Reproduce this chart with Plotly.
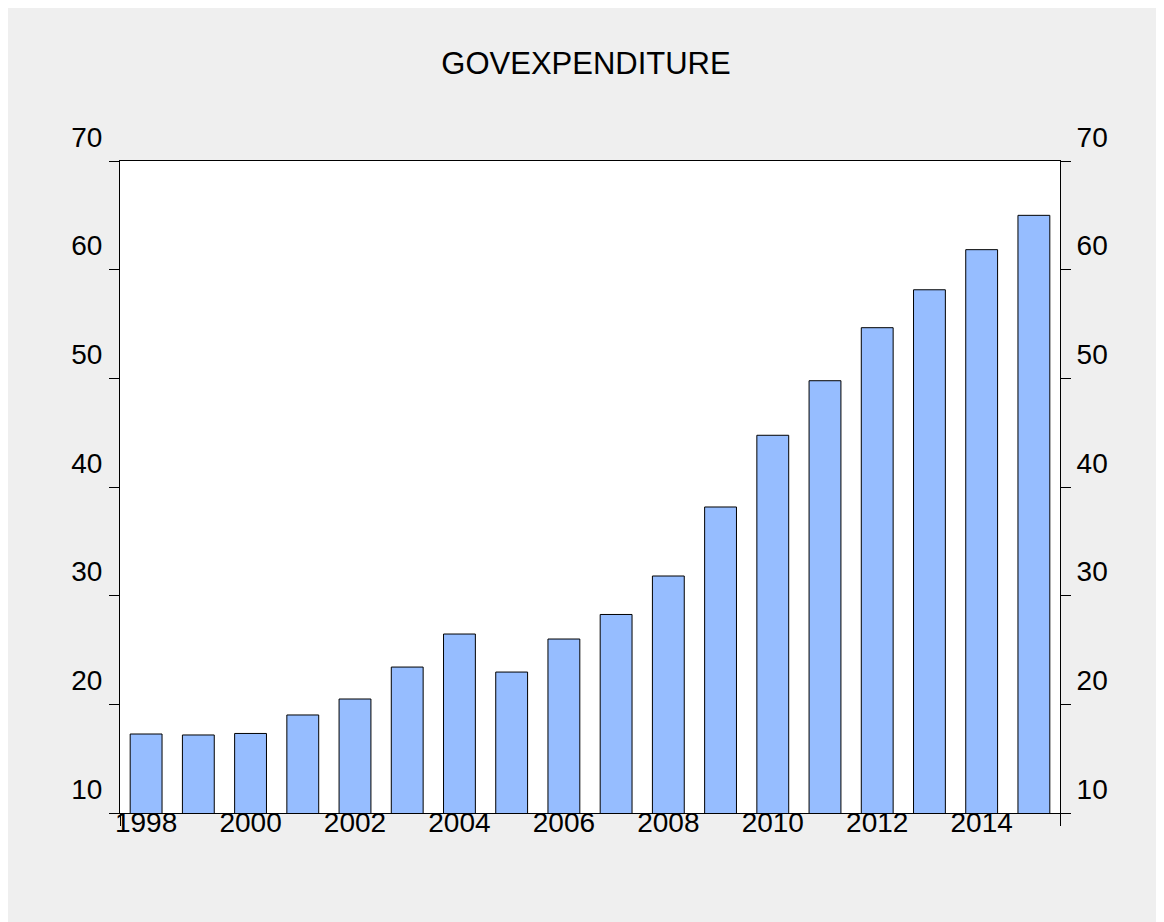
import plotly.graph_objects as go

years = list(range(1998, 2016))
gov_expenditure = [17.27, 17.18, 17.32, 19.02, 20.49, 23.43, 26.47, 22.97, 26.01,
                   28.27, 31.81, 38.16, 44.76, 49.78, 54.66, 58.15, 61.84, 65.0]
year_tick_vals = [1998, 2000, 2002, 2004, 2006, 2008, 2010, 2012, 2014]
year_tick_text = [str(y) for y in year_tick_vals]
y_ticks = [10, 20, 30, 40, 50, 60, 70]
title_text = "GOVEXPENDITURE"

FONT = "Liberation Sans, Arial, sans-serif"
GRAY = "#efefef"

fig = go.Figure()
fig.add_trace(go.Bar(
    x=years, y=gov_expenditure,
    marker=dict(color="#96bdff", line=dict(color="black", width=1)),
    showlegend=False,
))
# invisible helper trace so the right-hand axis and edge-tick axis render
fig.add_trace(go.Scatter(
    x=years, y=gov_expenditure, xaxis="x2", yaxis="y2",
    mode="markers", marker=dict(opacity=0), hoverinfo="skip", showlegend=False,
))

W, H = 1164, 922
L, R, T, B = 112, 112, 153, 117

fig.update_layout(
    width=W, height=H,
    margin=dict(l=L, r=R, t=T, b=B, pad=0),
    paper_bgcolor=GRAY,
    plot_bgcolor="white",
    bargap=0.39,
    font=dict(family=FONT, color="black", size=28),
    title=dict(text=title_text, x=578 / W, xref="container", xanchor="center",
               y=1 - 55 / H, yref="container", yanchor="middle",
               font=dict(family=FONT, size=31, color="black")),
    xaxis=dict(
        range=[1997.5, 2015.5], tickmode="array",
        tickvals=year_tick_vals, ticktext=year_tick_text,
        ticks="", showgrid=False, zeroline=False,
        showline=True, linecolor="black", linewidth=1, mirror=True,
        tickfont=dict(size=28), ticklabelstandoff=-16,
    ),
    xaxis2=dict(
        range=[1997.5, 2015.5], overlaying="x", side="bottom",
        tickmode="array", tickvals=[1997.5, 2015.5],
        ticks="outside", ticklen=12, tickcolor="black", tickwidth=1,
        showticklabels=False, showgrid=False, zeroline=False, showline=False,
    ),
    yaxis=dict(
        range=[10, 70], tickmode="array", tickvals=y_ticks,
        ticks="outside", ticklen=10, tickcolor="black", tickwidth=1,
        showgrid=False, zeroline=False,
        showline=True, linecolor="black", linewidth=1, mirror=True,
        tickfont=dict(size=28), ticklabelshift=-24, ticklabelstandoff=1,
    ),
    yaxis2=dict(
        range=[10, 70], overlaying="y", side="right", tickmode="array",
        tickvals=y_ticks,
        ticks="outside", ticklen=10, tickcolor="black", tickwidth=1,
        showgrid=False, zeroline=False, showline=False,
        tickfont=dict(size=28), ticklabelshift=-24, ticklabelstandoff=0,
    ),
)

fig.write_html("out.html")
